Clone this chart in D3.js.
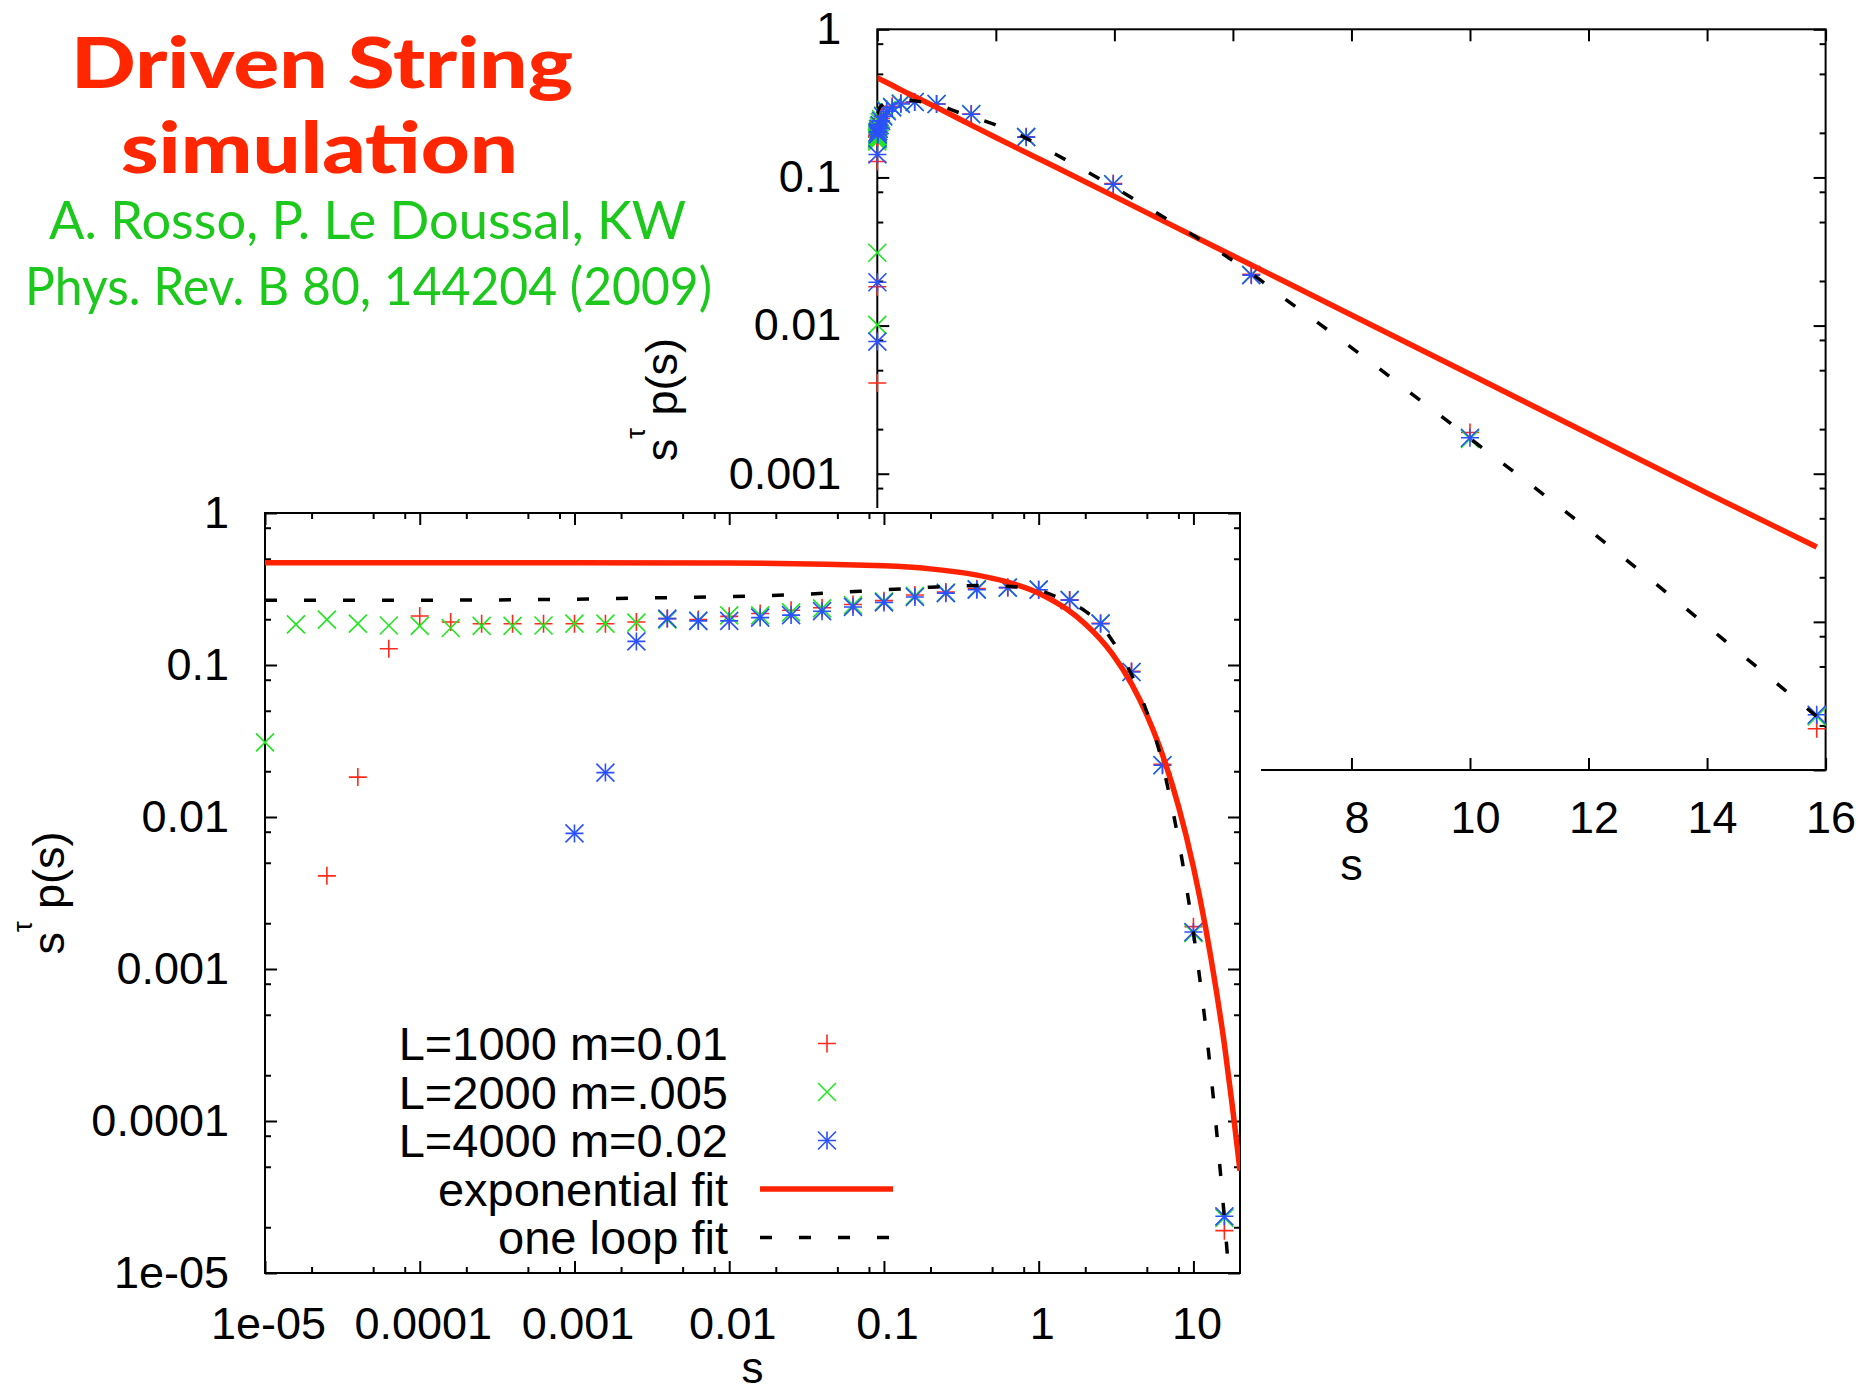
<!DOCTYPE html>
<html>
<head>
<meta charset="utf-8">
<script src="https://cdn.jsdelivr.net/npm/d3@7"></script>
<style>
  body { margin: 0; background: #fff; }
  svg { display: block; }
</style>
</head>
<body>
<svg id="chart"></svg>
<script>
const WIDTH = 1864;
const HEIGHT = 1389;
const FONT = '"Liberation Sans", Arial, Helvetica, sans-serif';
const TITLE_FONT = 'Lato, "Open Sans", sans-serif';

// s values: 0.2 decade steps (first one only seen in the inset)
const sGrid = [6.31e-6, 1e-5, 1.585e-5, 2.512e-5, 3.981e-5, 6.31e-5, 1e-4, 1.585e-4, 2.512e-4,
  3.981e-4, 6.31e-4, 1e-3, 1.585e-3, 2.512e-3, 3.981e-3, 6.31e-3, 0.01, 0.01585, 0.02512,
  0.03981, 0.0631, 0.1, 0.1585, 0.2512, 0.3981, 0.631, 1, 1.585, 2.512, 3.981, 6.31, 10, 15.85];

const redL1000 = [null, null, null, 0.0041, 0.0183, 0.128, 0.21, 0.192, 0.187, 0.187, 0.187,
  0.187, 0.187, 0.192, 0.202, 0.199, 0.209, 0.218, 0.229, 0.238, 0.25, 0.265, 0.289, 0.302,
  0.318, 0.323, 0.313, 0.268, 0.188, 0.091, 0.0222, 0.0019, 1.9e-5];

const greenL2000 = [0.0101, 0.031, 0.185, 0.199, 0.187, 0.182, 0.181, 0.175, 0.181, 0.181,
  0.182, 0.187, 0.187, 0.19, 0.199, 0.195, 0.212, 0.212, 0.222, 0.236, 0.248, 0.262, 0.285,
  0.3, 0.316, 0.323, 0.313, 0.268, 0.188, 0.09, 0.022, 0.00172, 2.3e-5];

const blueL4000 = [null, null, null, null, null, null, null, null, null, null, null, 0.0078,
  0.0196, 0.143, 0.202, 0.195, 0.195, 0.205, 0.213, 0.226, 0.241, 0.258, 0.28, 0.297, 0.313,
  0.323, 0.313, 0.267, 0.187, 0.0899, 0.0219, 0.00175, 2.36e-5];

// fit curves
const expFitS = [1e-5, 1e-3, 0.01, 0.1, 0.2, 0.4, 0.6, 1, 1.5, 2, 3, 4, 5, 6, 8, 10, 12, 14, 15.85, 18, 20];
const expFitV = [0.47, 0.47, 0.468, 0.449, 0.429, 0.39, 0.356, 0.297, 0.235, 0.186, 0.118, 0.0745,
  0.0469, 0.0296, 0.0118, 0.00469, 0.00186, 0.00074, 0.00032, 0.000117, 4.7e-5];

const loopFitS = [1e-5, 1e-4, 1e-3, 0.003, 0.01, 0.03, 0.1, 0.2, 0.4, 0.6, 0.8, 1, 1.4, 2, 2.5, 3,
  3.6, 4.5, 5.25, 5.8, 6.31, 6.9, 7.4, 7.9, 8.45, 9, 9.5, 10, 10.5, 11, 11.5, 12, 12.5, 13, 13.5,
  14, 14.5, 15, 15.5, 15.85, 16.5, 17.5];
const loopFitV = [0.267, 0.267, 0.271, 0.276, 0.282, 0.292, 0.312, 0.325, 0.333, 0.33, 0.322, 0.31,
  0.272, 0.226, 0.185, 0.144, 0.106, 0.065, 0.0426, 0.031, 0.0225, 0.0149, 0.0107, 0.0076, 0.0052,
  0.0035, 0.00247, 0.00173, 0.00122, 0.00086, 0.0006, 0.00042, 0.00029, 0.0002, 0.000137, 9.4e-5,
  6.4e-5, 4.4e-5, 3.0e-5, 2.3e-5, 1.39e-5, 6.4e-6];

const yDecades = [1e-5, 1e-4, 1e-3, 1e-2, 1e-1, 1];
const yDecadeLabels = ["1e-05", "0.0001", "0.001", "0.01", "0.1", "1"];
const xDecades = [1e-5, 1e-4, 1e-3, 1e-2, 1e-1, 1, 10];
const xDecadeLabels = ["1e-05", "0.0001", "0.001", "0.01", "0.1", "1", "10"];
const insetXTicks = [0, 2, 4, 6, 8, 10, 12, 14, 16];
const minorSteps = [2, 5, 8];

const legendLabels = ["L=1000 m=0.01", "L=2000 m=.005", "L=4000 m=0.02", "exponential fit", "one loop fit"];

const RED = "#ff2a1a", GREEN = "#22e622", BLUE = "#2a50ff", FIT_RED = "#ff2200";
const PLUS = "M-9,0H9M0,-9V9";
const TIMES = "M-9,-9L9,9M-9,9L9,-9";

const series = [
  { values: redL1000, color: RED, marks: [PLUS] },
  { values: greenL2000, color: GREEN, marks: [TIMES] },
  { values: blueL4000, color: BLUE, marks: [PLUS, TIMES] }
];

const MAIN = { left: 265, right: 1240, top: 513, bottom: 1273 };
const INSET = { left: 877.3, right: 1825.6, top: 29.3, bottom: 770 };

const svg = d3.select("#chart").attr("width", WIDTH).attr("height", HEIGHT);
svg.append("rect").attr("width", WIDTH).attr("height", HEIGHT).attr("fill", "#fff");

function logMinors(lo, hi) {
  let out = [];
  for (let n = -6; n <= 2; n++) {
    minorSteps.forEach(m => {
      let v = m * Math.pow(10, n);
      if (v > lo && v < hi) out.push(v);
    });
  }
  return out;
}

function addAxis(g, axis, tx, ty) {
  let a = g.append("g").attr("transform", `translate(${tx},${ty})`).call(axis);
  a.select(".domain").remove();
  a.selectAll("line").attr("stroke", "#000").attr("stroke-width", 2);
  a.attr("font-family", FONT).attr("font-size", 45);
  a.selectAll("text").attr("fill", "#000");
  return a;
}

function drawPoints(g, x, y, inDomain) {
  series.forEach(sr => {
    let pts = sGrid.map((s, i) => [s, sr.values[i]]).filter(d => d[1] != null && inDomain(d[0]));
    sr.marks.forEach(m => {
      g.append("g").selectAll("path").data(pts).enter().append("path")
        .attr("d", m)
        .attr("transform", d => `translate(${x(d[0])},${y(d[1])})`)
        .attr("fill", "none").attr("stroke", sr.color).attr("stroke-width", 1.6);
    });
  });
}

function drawFits(g, x, y, clipId, maxS) {
  let line = d3.line().x(d => x(d[0])).y(d => y(d[1])).curve(d3.curveMonotoneX);
  let exp = expFitS.map((s, i) => [s, expFitV[i]]).filter(d => d[0] <= maxS);
  let loop = loopFitS.map((s, i) => [s, loopFitV[i]]).filter(d => d[0] <= maxS);
  let fg = g.append("g").attr("clip-path", `url(#${clipId})`);
  fg.append("path").attr("d", line(exp)).attr("fill", "none")
    .attr("stroke", FIT_RED).attr("stroke-width", 5.5);
  fg.append("path").attr("d", line(loop)).attr("fill", "none")
    .attr("stroke", "#000").attr("stroke-width", 3.5).attr("stroke-dasharray", "12,27");
}

function yLabel(g, bx, cy) {
  let t = g.append("text").attr("transform", `translate(${bx},${cy}) rotate(-90)`)
    .attr("text-anchor", "middle").attr("font-family", FONT).attr("font-size", 45)
    .style("white-space", "pre");
  t.append("tspan").text("s");
  t.append("tspan").attr("dy", -32).attr("font-size", 27).text("τ");
  t.append("tspan").attr("dy", 32).text(" p(s)");
}

function addClip(id, box) {
  svg.append("clipPath").attr("id", id).append("rect")
    .attr("x", box.left).attr("y", box.top)
    .attr("width", box.right - box.left).attr("height", box.bottom - box.top);
}

// ---------- title ----------
const title = svg.append("g").attr("font-family", TITLE_FONT);
title.append("text").attr("x", 71).attr("y", 88).attr("font-size", 70).attr("font-weight", 900)
  .attr("fill", "#ff2600").attr("textLength", 502).attr("lengthAdjust", "spacingAndGlyphs")
  .text("Driven String");
title.append("text").attr("x", 121).attr("y", 173).attr("font-size", 70).attr("font-weight", 900)
  .attr("fill", "#ff2600").attr("textLength", 397).attr("lengthAdjust", "spacingAndGlyphs")
  .text("simulation");
title.append("text").attr("x", 49).attr("y", 239).attr("font-size", 52)
  .attr("fill", "#1cc81c").attr("textLength", 637).attr("lengthAdjust", "spacingAndGlyphs")
  .text("A. Rosso, P. Le Doussal, KW");
title.append("text").attr("x", 25).attr("y", 305).attr("font-size", 52)
  .attr("fill", "#1cc81c").attr("textLength", 687).attr("lengthAdjust", "spacingAndGlyphs")
  .text("Phys. Rev. B 80, 144204 (2009)");

// ---------- inset: linear s ----------
const xIn = d3.scaleLinear().domain([0, 16]).range([INSET.left, INSET.right]);
const yIn = d3.scaleLog().domain([1e-5, 1]).range([INSET.bottom, INSET.top]);
addClip("clipInset", INSET);
const inset = svg.append("g");
const yMinorIn = logMinors(1e-5, 1);

addAxis(inset, d3.axisLeft(yIn).tickValues(yDecades).tickSize(-12).tickPadding(36)
  .tickFormat((d, i) => yDecadeLabels[i]), INSET.left, 0);
addAxis(inset, d3.axisLeft(yIn).tickValues(yMinorIn).tickSize(-6).tickFormat(""), INSET.left, 0);
addAxis(inset, d3.axisRight(yIn).tickValues(yDecades).tickSize(-12).tickFormat(""), INSET.right, 0);
addAxis(inset, d3.axisRight(yIn).tickValues(yMinorIn).tickSize(-6).tickFormat(""), INSET.right, 0);
addAxis(inset, d3.axisBottom(xIn).tickValues(insetXTicks).tickSize(-12).tickPadding(31)
  .tickFormat(d3.format("d")), 0, INSET.bottom).selectAll("text").attr("dx", 5);
addAxis(inset, d3.axisTop(xIn).tickValues(insetXTicks).tickSize(-12).tickFormat(""), 0, INSET.top);

inset.append("rect").attr("x", INSET.left).attr("y", INSET.top)
  .attr("width", INSET.right - INSET.left).attr("height", INSET.bottom - INSET.top)
  .attr("fill", "none").attr("stroke", "#000").attr("stroke-width", 2);

drawPoints(inset, xIn, yIn, s => s <= 16);
drawFits(inset, xIn, yIn, "clipInset", 16);

yLabel(inset, 677, (INSET.top + INSET.bottom) / 2);
inset.append("text").attr("x", (INSET.left + INSET.right) / 2).attr("y", 880)
  .attr("text-anchor", "middle").attr("font-family", FONT).attr("font-size", 45).text("s");

// ---------- main: log-log ----------
const xMain = d3.scaleLog().domain([1e-5, 20]).range([MAIN.left, MAIN.right]);
const yMain = d3.scaleLog().domain([1e-5, 1]).range([MAIN.bottom, MAIN.top]);
addClip("clipMain", MAIN);
const main = svg.append("g");

// the main plot sits on top of the inset and hides its lower-left part
main.append("rect").attr("x", 0).attr("y", 508).attr("width", 1261).attr("height", HEIGHT - 508)
  .attr("fill", "#fff");

const yMinorMain = logMinors(1e-5, 1);
const xMinorMain = logMinors(1e-5, 20);

addAxis(main, d3.axisLeft(yMain).tickValues(yDecades).tickSize(-12).tickPadding(36)
  .tickFormat((d, i) => yDecadeLabels[i]), MAIN.left, 0);
addAxis(main, d3.axisLeft(yMain).tickValues(yMinorMain).tickSize(-6).tickFormat(""), MAIN.left, 0);
addAxis(main, d3.axisRight(yMain).tickValues(yDecades).tickSize(-12).tickFormat(""), MAIN.right, 0);
addAxis(main, d3.axisRight(yMain).tickValues(yMinorMain).tickSize(-6).tickFormat(""), MAIN.right, 0);
addAxis(main, d3.axisBottom(xMain).tickValues(xDecades).tickSize(-12).tickPadding(34)
  .tickFormat((d, i) => xDecadeLabels[i]), 0, MAIN.bottom).selectAll("text").attr("dx", 3);
addAxis(main, d3.axisBottom(xMain).tickValues(xMinorMain).tickSize(-6).tickFormat(""), 0, MAIN.bottom);
addAxis(main, d3.axisTop(xMain).tickValues(xDecades).tickSize(-12).tickFormat(""), 0, MAIN.top);
addAxis(main, d3.axisTop(xMain).tickValues(xMinorMain).tickSize(-6).tickFormat(""), 0, MAIN.top);

main.append("rect").attr("x", MAIN.left).attr("y", MAIN.top)
  .attr("width", MAIN.right - MAIN.left).attr("height", MAIN.bottom - MAIN.top)
  .attr("fill", "none").attr("stroke", "#000").attr("stroke-width", 2);

drawPoints(main, xMain, yMain, s => s >= 1e-5 && s <= 20);
drawFits(main, xMain, yMain, "clipMain", 20);

yLabel(main, 64, (MAIN.top + MAIN.bottom) / 2);
main.append("text").attr("x", (MAIN.left + MAIN.right) / 2).attr("y", 1383)
  .attr("text-anchor", "middle").attr("font-family", FONT).attr("font-size", 44).text("s");

// ---------- legend ----------
const legend = main.append("g").attr("font-family", FONT).attr("font-size", 47);
legendLabels.forEach((lab, i) => {
  let cy = 1043.5 + i * 48.5;
  legend.append("text").attr("x", 728).attr("y", cy + 16.5).attr("text-anchor", "end").text(lab);
  if (i < 3) {
    series[i].marks.forEach(m => {
      legend.append("path").attr("d", m).attr("transform", `translate(827,${cy})`)
        .attr("fill", "none").attr("stroke", series[i].color).attr("stroke-width", 1.6);
    });
  } else if (i === 3) {
    legend.append("line").attr("x1", 760).attr("x2", 893).attr("y1", cy).attr("y2", cy)
      .attr("stroke", FIT_RED).attr("stroke-width", 5.5);
  } else {
    legend.append("line").attr("x1", 760).attr("x2", 893).attr("y1", cy).attr("y2", cy)
      .attr("stroke", "#000").attr("stroke-width", 3.5).attr("stroke-dasharray", "12,27");
  }
});
</script>
</body>
</html>
